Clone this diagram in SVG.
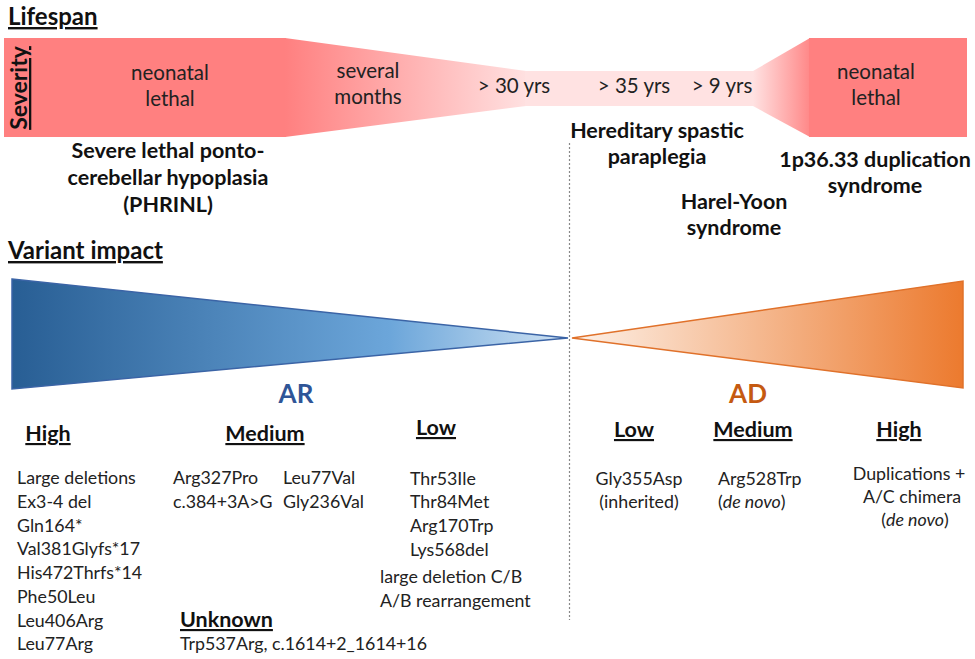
<svg xmlns="http://www.w3.org/2000/svg" width="975" height="659" viewBox="0 0 975 659">
<defs>
<linearGradient id="sevL" gradientUnits="userSpaceOnUse" x1="285" y1="0" x2="530" y2="0">
<stop offset="0" stop-color="#FF8080"/><stop offset="1" stop-color="#FFE2E2"/>
</linearGradient>
<linearGradient id="sevR" gradientUnits="userSpaceOnUse" x1="753" y1="0" x2="815" y2="0">
<stop offset="0" stop-color="#FFE2E2"/><stop offset="1" stop-color="#FF8080"/>
</linearGradient>
<linearGradient id="blue" gradientUnits="userSpaceOnUse" x1="12" y1="0" x2="568" y2="0">
<stop offset="0" stop-color="#285E94"/><stop offset="0.68" stop-color="#6CA6DA"/><stop offset="1" stop-color="#CFE2F3"/>
</linearGradient>
<linearGradient id="orange" gradientUnits="userSpaceOnUse" x1="572" y1="0" x2="963" y2="0">
<stop offset="0" stop-color="#FDF1E8"/><stop offset="1" stop-color="#EC7A2E"/>
</linearGradient>
</defs>
<style>
text{font-family:Lato,"Liberation Sans",sans-serif;fill:#222;}
.t{font-size:20.5px;text-anchor:middle;}
.b{font-size:21.5px;font-weight:bold;text-anchor:middle;fill:#111;}
.h{font-size:24px;font-weight:bold;text-decoration:underline;fill:#111;}
.hd{font-size:21.5px;font-weight:bold;text-decoration:underline;text-anchor:middle;fill:#111;}
.v{font-size:17.8px;}
.c{text-anchor:middle;}
</style>

<g id="lifespan-title"><text class="h" x="8" y="25">Lifespan</text></g>

<g id="severity-band">
<rect x="4" y="38" width="282" height="99" fill="#FF8080"/>
<polygon points="285,38 526,71 526,106 285,137" fill="url(#sevL)"/>
<rect x="525" y="71" width="229" height="35" fill="#FFE2E2"/>
<polygon points="753,71 810,38 810,137 753,106" fill="url(#sevR)"/>
<rect x="809" y="38" width="158" height="99" fill="#FF8080"/>
<text class="h" transform="translate(27,88) rotate(-90)" text-anchor="middle" style="font-size:23px">Severity</text>
<text class="t" x="170" y="80">neonatal</text>
<text class="t" x="170" y="106">lethal</text>
<text class="t" x="368" y="78">several</text>
<text class="t" x="368" y="104">months</text>
<text class="t" x="514" y="93">&gt; 30 yrs</text>
<text class="t" x="634" y="93">&gt; 35 yrs</text>
<text class="t" x="722" y="93">&gt; 9 yrs</text>
<text class="t" x="876" y="79">neonatal</text>
<text class="t" x="876" y="105">lethal</text>
</g>

<g id="phrinl">
<text class="b" x="168" y="158">Severe lethal ponto-</text>
<text class="b" x="168" y="185">cerebellar hypoplasia</text>
<text class="b" x="168" y="212">(PHRINL)</text>
</g>
<g id="hsp">
<text class="b" x="657" y="138">Hereditary spastic</text>
<text class="b" x="657" y="164">paraplegia</text>
</g>
<g id="harel-yoon">
<text class="b" x="734" y="209">Harel-Yoon</text>
<text class="b" x="734" y="235">syndrome</text>
</g>
<g id="dup-syndrome">
<text class="b" x="875" y="167">1p36.33 duplication</text>
<text class="b" x="875" y="193">syndrome</text>
</g>

<g id="connectors">
<line x1="569.5" y1="143" x2="569.5" y2="620" stroke="#888" stroke-width="1.2" stroke-dasharray="2,2"/>
</g>

<g id="variant-title"><text class="h" x="8" y="259">Variant impact</text></g>

<g id="ar-triangle">
<polygon points="12,279 568,338 12,389" fill="url(#blue)" stroke="#3B64A6" stroke-width="1.5"/>
<text x="296" y="403" text-anchor="middle" font-size="26" font-weight="bold" style="fill:#2F5597">AR</text>
</g>
<g id="ad-triangle">
<polygon points="572,338 963,281 963,388" fill="url(#orange)" stroke="#E0712A" stroke-width="1.5"/>
<text x="748" y="403" text-anchor="middle" font-size="26" font-weight="bold" style="fill:#C55A11">AD</text>
</g>

<g id="ar-high">
<text class="hd" x="48" y="441">High</text>
<text class="v" x="17" y="484">Large deletions</text>
<text class="v" x="17" y="508">Ex3-4 del</text>
<text class="v" x="17" y="532">Gln164*</text>
<text class="v" x="17" y="555">Val381Glyfs*17</text>
<text class="v" x="17" y="579">His472Thrfs*14</text>
<text class="v" x="17" y="603">Phe50Leu</text>
<text class="v" x="17" y="627">Leu406Arg</text>
<text class="v" x="17" y="650">Leu77Arg</text>
</g>
<g id="ar-medium">
<text class="hd" x="265" y="441">Medium</text>
<text class="v" x="173" y="484">Arg327Pro</text>
<text class="v" x="173" y="508">c.384+3A&gt;G</text>
<text class="v" x="283" y="484">Leu77Val</text>
<text class="v" x="283" y="508">Gly236Val</text>
</g>
<g id="ar-low">
<text class="hd" x="436" y="435">Low</text>
<text class="v" x="410" y="485">Thr53Ile</text>
<text class="v" x="410" y="508">Thr84Met</text>
<text class="v" x="410" y="532">Arg170Trp</text>
<text class="v" x="410" y="556">Lys568del</text>
<text class="v" x="380" y="583">large deletion C/B</text>
<text class="v" x="380" y="607">A/B rearrangement</text>
</g>
<g id="ar-unknown">
<text class="hd" x="180" y="627" style="text-anchor:start">Unknown</text>
<text class="v" x="180" y="650">Trp537Arg, c.1614+2_1614+16</text>
</g>

<g id="ad-low">
<text class="hd" x="634" y="437">Low</text>
<text class="v c" x="639" y="485">Gly355Asp</text>
<text class="v c" x="639" y="508">(inherited)</text>
</g>
<g id="ad-medium">
<text class="hd" x="753" y="437">Medium</text>
<text class="v" x="718" y="485">Arg528Trp</text>
<text class="v" x="718" y="508">(<tspan font-style="italic">de novo</tspan>)</text>
</g>
<g id="ad-high">
<text class="hd" x="899" y="437">High</text>
<text class="v c" x="909" y="480">Duplications +</text>
<text class="v c" x="912" y="503">A/C chimera</text>
<text class="v c" x="915" y="526">(<tspan font-style="italic">de novo</tspan>)</text>
</g>
</svg>
